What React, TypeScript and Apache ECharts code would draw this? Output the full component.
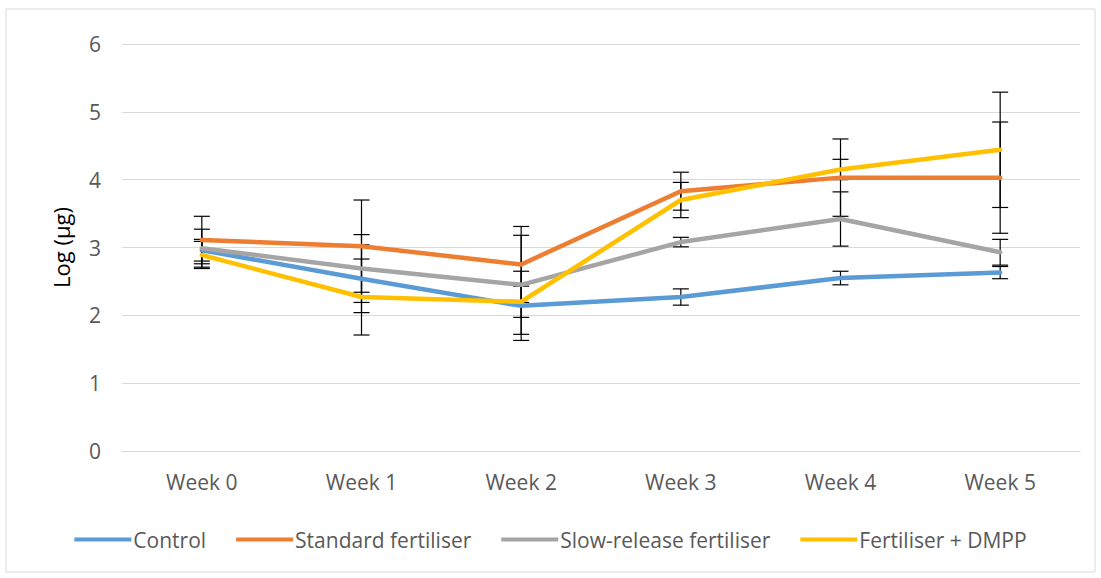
import React, { useEffect, useRef } from "react";
import * as echarts from "echarts";

const weeks = ["Week 0", "Week 1", "Week 2", "Week 3", "Week 4", "Week 5"];
const yTicks = [0, 1, 2, 3, 4, 5, 6];

const control = [2.96, 2.54, 2.14, 2.27, 2.55, 2.63];
const controlErr = [0.16, 0.5, 0.51, 0.12, 0.1, 0.09];
const standard = [3.11, 3.02, 2.75, 3.83, 4.03, 4.03];
const standardErr = [0.35, 0.68, 0.56, 0.28, 0.57, 0.82];
const slow = [2.99, 2.69, 2.45, 3.08, 3.42, 2.93];
const slowErr = [0.28, 0.5, 0.73, 0.07, 0.4, 0.19];
const dmpp = [2.89, 2.27, 2.2, 3.7, 4.15, 4.44];
const dmppErr = [0.2, 0.56, 0.23, 0.26, 0.15, 0.85];

const seriesNames = ["Control", "Standard fertiliser", "Slow-release fertiliser", "Fertiliser + DMPP"];
const seriesValues = [control, standard, slow, dmpp];
const seriesErrors = [controlErr, standardErr, slowErr, dmppErr];
const colors = ["#5B9BD5", "#ED7D31", "#A5A5A5", "#FFC000"];

const FONT = "Open Sans";

export default function App() {
  const ref = useRef<HTMLDivElement>(null);
  useEffect(() => {
    if (!ref.current) return;
    const chart = echarts.init(ref.current, undefined, { renderer: "svg" });
    const errSeries = seriesValues.map((vals, si) => ({
      type: "custom",
      name: seriesNames[si] + " error",
      z: 1,
      silent: true,
      data: vals.map((v, i) => [i, v - seriesErrors[si][i], v + seriesErrors[si][i]]),
      renderItem: (params: any, api: any) => {
        const x = api.value(0);
        const lo = api.coord([x, api.value(1)]);
        const hi = api.coord([x, api.value(2)]);
        const hw = 8;
        const st = { stroke: "#000000", lineWidth: 1.2 };
        return {
          type: "group",
          children: [
            { type: "line", shape: { x1: hi[0], y1: hi[1], x2: lo[0], y2: lo[1] }, style: st },
            { type: "line", shape: { x1: hi[0] - hw, y1: hi[1], x2: hi[0] + hw, y2: hi[1] }, style: st },
            { type: "line", shape: { x1: lo[0] - hw, y1: lo[1], x2: lo[0] + hw, y2: lo[1] }, style: st },
          ],
        };
      },
    }));
    const lineSeries = seriesValues.map((vals, si) => ({
      type: "line",
      name: seriesNames[si],
      z: 2,
      data: vals,
      symbol: "none",
      color: colors[si],
      lineStyle: { width: 4.5, color: colors[si], cap: "round", join: "round" },
    }));
    chart.setOption({
      animation: false,
      backgroundColor: "#ffffff",
      graphic: [
        {
          type: "rect",
          shape: { x: 6, y: 9, width: 1089, height: 563 },
          style: { fill: "none", stroke: "#d9d9d9", lineWidth: 1 },
          silent: true,
        },
      ],
      grid: { left: 122, right: 21, top: 44, bottom: 127 },
      legend: {
        data: seriesNames,
        bottom: 23,
        left: "center",
        icon: "rect",
        itemWidth: 57,
        itemHeight: 4,
        itemGap: 30,
        textStyle: { fontFamily: FONT, fontSize: 21, color: "#595959", padding: [0, 0, 0, -3] },
      },
      xAxis: {
        type: "category",
        data: weeks,
        boundaryGap: true,
        axisLine: { lineStyle: { color: "#d9d9d9", width: 1 } },
        axisTick: { show: false },
        axisLabel: { fontFamily: FONT, fontSize: 21, color: "#595959", margin: 20 },
      },
      yAxis: {
        type: "value",
        min: yTicks[0],
        max: yTicks[yTicks.length - 1],
        interval: 1,
        name: "Log (µg)",
        nameLocation: "middle",
        nameGap: 50,
        nameRotate: 90,
        nameTextStyle: { fontFamily: FONT, fontSize: 22, color: "#000000" },
        axisLine: { show: false },
        axisTick: { show: false },
        splitLine: { lineStyle: { color: "#d9d9d9", width: 1 } },
        axisLabel: { fontFamily: FONT, fontSize: 21, color: "#595959", margin: 21 },
      },
      series: [...errSeries, ...lineSeries],
    });
    return () => chart.dispose();
  }, []);
  return (
    <div
      ref={ref}
      style={{ position: "fixed", left: 0, top: 0, width: 1101, height: 578 }}
    />
  );
}
